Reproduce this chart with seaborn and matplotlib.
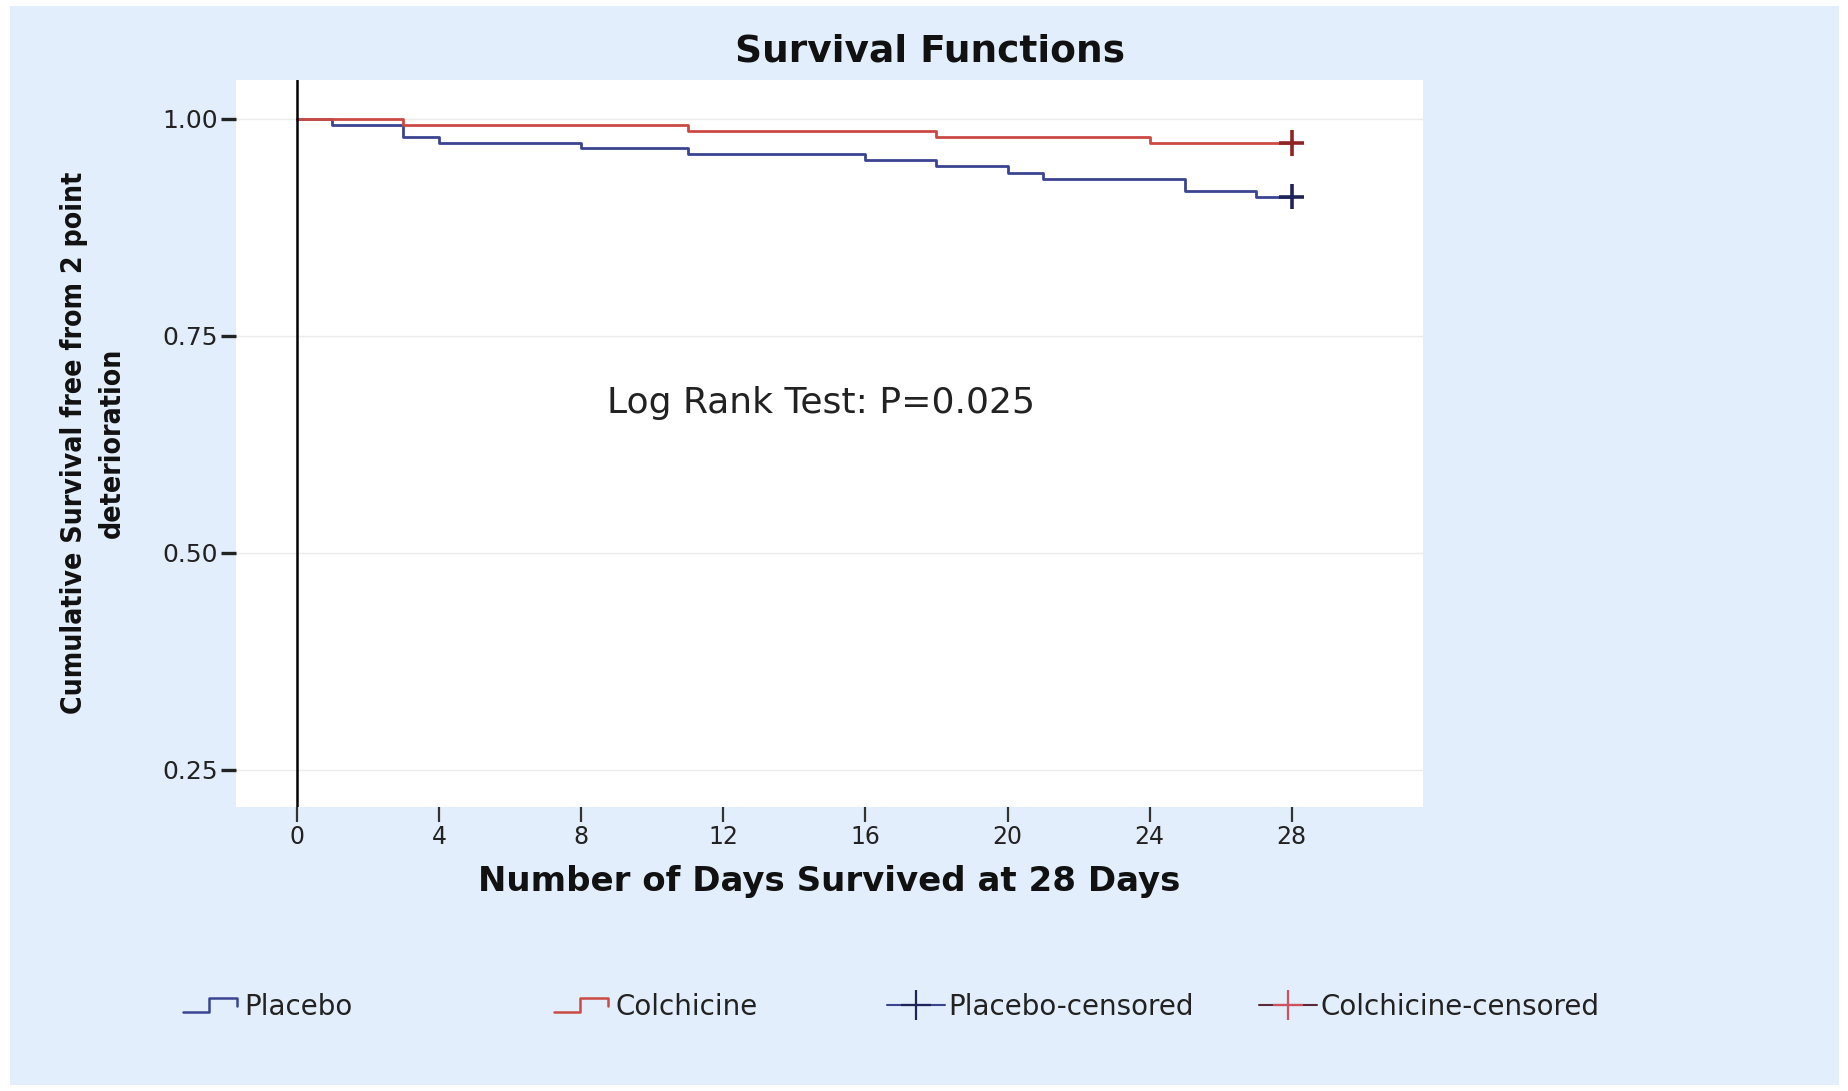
import os
import matplotlib
matplotlib.use("Agg")
import matplotlib.pyplot as plt
from matplotlib import font_manager
from matplotlib.font_manager import FontProperties
from matplotlib.lines import Line2D
from matplotlib.legend_handler import HandlerBase
from matplotlib.patches import Rectangle
import seaborn as sns
import pandas as pd

# ---------------- data ----------------
placebo_days = [0, 1, 3, 4, 8, 11, 16, 18, 20, 21, 25, 27, 28]
placebo_surv = [1.000, 0.993, 0.979, 0.972, 0.966, 0.959, 0.952, 0.945,
                0.938, 0.931, 0.917, 0.910, 0.910]
colchicine_days = [0, 3, 11, 18, 24, 28]
colchicine_surv = [1.000, 0.993, 0.986, 0.979, 0.972, 0.972]

censor_groups = ["Placebo-censored", "Colchicine-censored"]
censor_days = [28, 28]
censor_surv = [0.910, 0.972]

x_ticks = [0, 4, 8, 12, 16, 20, 24, 28]
y_ticks = [0.25, 0.50, 0.75, 1.00]
y_tick_labels = ["0.25", "0.50", "0.75", "1.00"]

title_text = "Survival Functions"
x_label = "Number of Days Survived at 28 Days"
y_label = "Cumulative Survival free from 2 point\ndeterioration"
annotation = "Log Rank Test: P=0.025"
legend_labels = ["Placebo", "Colchicine", "Placebo-censored", "Colchicine-censored"]

# ---------------- styling ----------------
sns.set_theme(style="white")
plt.rcParams["font.family"] = ["DejaVu Sans"]

# pick a condensed bold face for the y label if one is installed
ylab_prop = None
cands = [("LiberationSansNarrow-Bold", 22.5), ("DejaVuSansCondensed-Bold", 20.3)]
files = {os.path.basename(f.fname).rsplit(".", 1)[0]: f.fname
         for f in font_manager.fontManager.ttflist}
for key, size in cands:
    if key in files:
        ylab_prop = FontProperties(fname=files[key], size=size)
        break
if ylab_prop is None:
    ylab_prop = FontProperties(family="DejaVu Sans", weight="bold", size=18.4)

BG = "#E2EEFB"
C_PLACEBO = "#3A4491"
C_COLCH = "#CC4A44"
C_PLACEBO_CENS = "#1E2358"
C_COLCH_CENS = "#8E2424"

W, H = 1849, 1091
fig = plt.figure(figsize=(W / 100, H / 100), dpi=100, facecolor="white")
fig.patches.append(Rectangle((10 / W, 6 / H), (1839 - 10) / W, (1085 - 6) / H,
                             transform=fig.transFigure, facecolor=BG,
                             edgecolor="none", zorder=-10))

ax = fig.add_axes([235.8 / W, 1 - 806.6 / H, (1423.2 - 235.8) / W, (806.6 - 80.2) / H])
ax.set_facecolor("white")

# ---------------- data frames ----------------
curves = pd.DataFrame({
    "day": placebo_days + colchicine_days,
    "survival": placebo_surv + colchicine_surv,
    "group": ["Placebo"] * len(placebo_days) + ["Colchicine"] * len(colchicine_days),
})
censored = pd.DataFrame({"day": censor_days, "survival": censor_surv, "group": censor_groups})

sns.lineplot(data=curves, x="day", y="survival", hue="group",
             palette={"Placebo": C_PLACEBO, "Colchicine": C_COLCH},
             drawstyle="steps-post", estimator=None, sort=False,
             linewidth=2.0, legend=False, ax=ax, zorder=3)
sns.scatterplot(data=censored, x="day", y="survival", hue="group",
                palette={"Placebo-censored": C_PLACEBO_CENS,
                         "Colchicine-censored": C_COLCH_CENS},
                marker="+", s=330, linewidth=2.6, legend=False, ax=ax, zorder=4)

ax.axvline(0, color="black", lw=1.8, zorder=5)

# ---------------- axes ----------------
ax.set_xlim(-1.72, 31.70)
ax.set_ylim(0.2075, 1.0444)
ax.set_xticks(x_ticks)
ax.set_xticklabels([str(t) for t in x_ticks])
ax.set_yticks(y_ticks)
ax.set_yticklabels(y_tick_labels)
for s in ax.spines.values():
    s.set_visible(False)
ax.grid(axis="y", color="#EBEBEB", lw=1.0)
ax.grid(axis="x", visible=False)
ax.set_axisbelow(True)
ax.tick_params(axis="y", direction="out", length=11, width=2.4, color="#222222",
               labelsize=18, labelcolor="#222222", pad=2, left=True)
ax.tick_params(axis="x", direction="out", length=11, width=1.6, color="#333333",
               labelsize=17, labelcolor="#222222", pad=2, bottom=True)

ax.set_xlabel(x_label, fontsize=24.5, fontweight="bold", color="#111111", va="center")
ax.xaxis.set_label_coords(0.5, -(882 - 806.6) / (806.6 - 80.2))
ax.set_ylabel("")
fig.text(93 / W, 1 - 443 / H, y_label, rotation=90, ha="center", va="center",
         fontproperties=ylab_prop, fontweight="bold", color="#111111",
         linespacing=1.45)

fig.text(930 / W, 1 - 52 / H, title_text, ha="center", va="center",
         fontsize=27, fontweight="bold", color="#111111")

ax.text(14.76, 0.672, annotation, ha="center", va="center", fontsize=26,
        color="#222222")


# ---------------- legend ----------------
class StepHandler(HandlerBase):
    def create_artists(self, legend, orig_handle, xdescent, ydescent,
                       width, height, fontsize, trans):
        x0, y0 = -xdescent, -ydescent
        xs = [x0, x0 + 0.45 * width, x0 + 0.45 * width, x0 + 0.93 * width, x0 + 0.93 * width]
        ys = [y0 + 0.15 * height, y0 + 0.15 * height, y0 + 0.85 * height,
              y0 + 0.85 * height, y0 + 0.45 * height]
        ln = Line2D(xs, ys, color=orig_handle.get_color(), lw=orig_handle.get_linewidth())
        ln.set_transform(trans)
        return [ln]


handles = [
    Line2D([], [], color=C_PLACEBO, lw=1.8),
    Line2D([], [], color=C_COLCH, lw=1.8),
    Line2D([], [], color=C_PLACEBO, lw=1.5, marker="+", markersize=22,
           markeredgewidth=1.6, markeredgecolor=C_PLACEBO_CENS),
    Line2D([], [], color="#5A2A3A", lw=1.5, marker="+", markersize=22,
           markeredgewidth=1.6, markeredgecolor="#D05060"),
]
legend_x = [183, 554, 887, 1259]
for i, (h, lab, lx) in enumerate(zip(handles, legend_labels, legend_x)):
    hm = {h: StepHandler()} if i < 2 else None
    fig.legend([h], [lab], loc="center left",
               bbox_to_anchor=(lx / W, 1 - 1007 / H), frameon=False,
               borderpad=0, borderaxespad=0, handlelength=2.1,
               handletextpad=0.1, fontsize=20, numpoints=1,
               handler_map=hm, labelcolor="#222222")

fig.savefig("out.png", dpi=100, facecolor=fig.get_facecolor())
